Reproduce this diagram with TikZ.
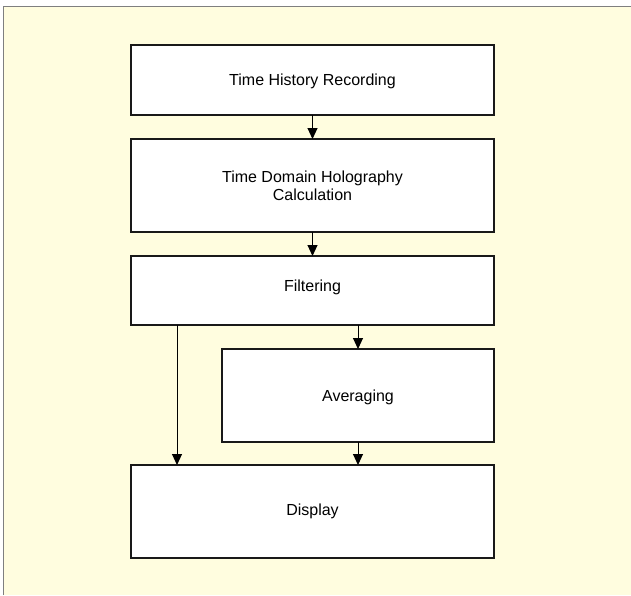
\documentclass[tikz,border=0pt]{standalone}
\usepackage{fontspec}
\setmainfont{Liberation Sans}
\usetikzlibrary{arrows.meta}
\definecolor{bgyellow}{HTML}{FFFDDF}
\definecolor{framegray}{HTML}{7F7F7F}
\begin{document}
\begin{tikzpicture}[x=1pt,y=-1pt,
  box/.style={draw=black!90,line width=1.8pt,fill=white,inner sep=0pt,outer sep=0pt,
    font=\fontsize{16}{18.4}\selectfont,align=center},
  onel/.style={text height=11.5pt,text depth=0pt},
  arr/.style={line width=1pt,-{Triangle[width=10pt,length=11pt]}}]
\useasboundingbox (0,0) rectangle (631,595);
\fill[bgyellow] (3.5,6.5) rectangle (631,595);
\draw[framegray,line width=1.5pt] (3.5,595) -- (3.5,6.5) -- (631,6.5);
\node[box,onel,minimum width=363pt,minimum height=70pt] (b1) at (312.5,80) {Time History Recording};
\node[box,minimum width=363pt,minimum height=93pt] (b2) at (312.5,185.5) {Time Domain Holography\\Calculation};
\node[box,text height=11.5pt,text depth=10pt,minimum width=363pt,minimum height=69pt] (b3) at (312.5,290.5) {Filtering};
\node[box,onel,minimum width=272pt,minimum height=93pt] (b4) at (358,395.5) {Averaging};
\node[box,onel,text depth=3pt,minimum width=363pt,minimum height=93pt] (b5) at (312.5,511.5) {Display};
\coordinate (lx) at (177,0);
\draw[arr] (b1.south) -- (b2.north);
\draw[arr] (b2.south) -- (b3.north);
\draw[arr] (b3.south -| b4.north) -- (b4.north);
\draw[arr] (b4.south) -- (b5.north -| b4.south);
\draw[arr] (b3.south -| lx) -- (b5.north -| lx);
\end{tikzpicture}
\end{document}
